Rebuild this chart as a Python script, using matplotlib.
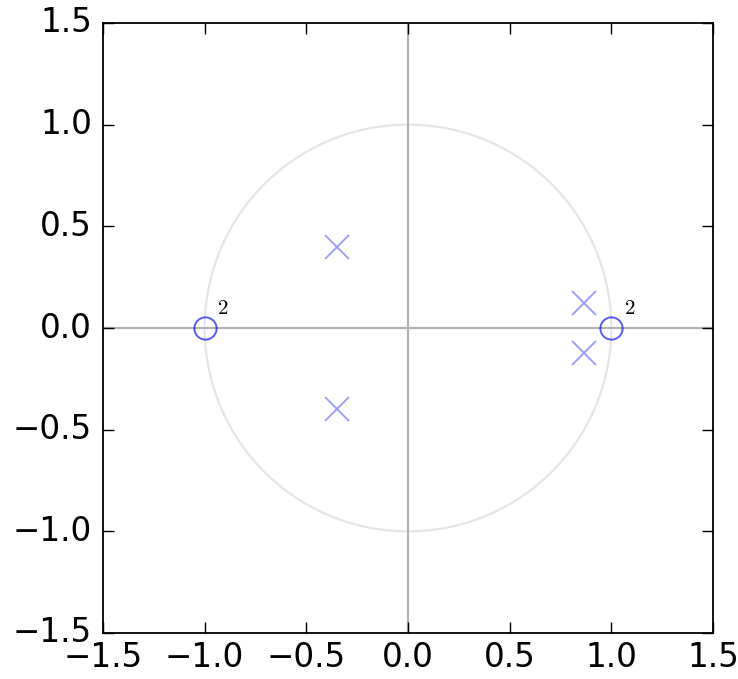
import numpy as np
import matplotlib
matplotlib.use("Agg")
import matplotlib.pyplot as plt

plt.style.use("classic")

# Pole and zero locations of the system (real and imaginary parts)
pole_re = [-0.35, -0.35, 0.866, 0.866]
pole_im = [0.40, -0.40, 0.125, -0.125]
zero_re = [-1.0, 1.0]
zero_im = [0.0, 0.0]
zero_mult = [2, 2]

ticks = [-1.5, -1.0, -0.5, 0.0, 0.5, 1.0, 1.5]

fig = plt.figure(figsize=(7.38, 6.79), dpi=100, facecolor="white")
ax = fig.add_axes([103 / 738, 46 / 679, 610 / 738, 610 / 679])
ax.set_facecolor("white")

# unit circle and real/imaginary axes
t = np.linspace(0, 2 * np.pi, 400)
ax.plot(np.cos(t), np.sin(t), color="0.9", lw=1.6, zorder=1)
ax.axhline(0, color="0.7", lw=1.6, zorder=1)
ax.axvline(0, color="0.7", lw=1.6, zorder=1)

ax.plot(pole_re, pole_im, "x", color="blue", alpha=0.4, ms=17, mew=1.3,
        linestyle="none", zorder=3)
ax.plot(zero_re, zero_im, "o", color="blue", mfc="none", mec="blue",
        alpha=0.65, ms=16, mew=1.4, linestyle="none", zorder=3)

for zr, zi, m in zip(zero_re, zero_im, zero_mult):
    if m > 1:
        ax.text(zr + 0.06, zi + 0.05, r"$\mathbf{%d}$" % m, fontsize=15,
                ha="left", va="bottom")

ax.set_xlim(-1.5, 1.5)
ax.set_ylim(-1.5, 1.5)
ax.set_xticks(ticks)
ax.set_yticks(ticks)
ax.tick_params(labelsize=23.5, direction="in", length=8, width=1)
ax.tick_params(axis="x", pad=6)
ax.tick_params(axis="y", pad=8)
for s in ax.spines.values():
    s.set_linewidth(1.3)

fig.savefig("out.png", dpi=100, facecolor="white")
